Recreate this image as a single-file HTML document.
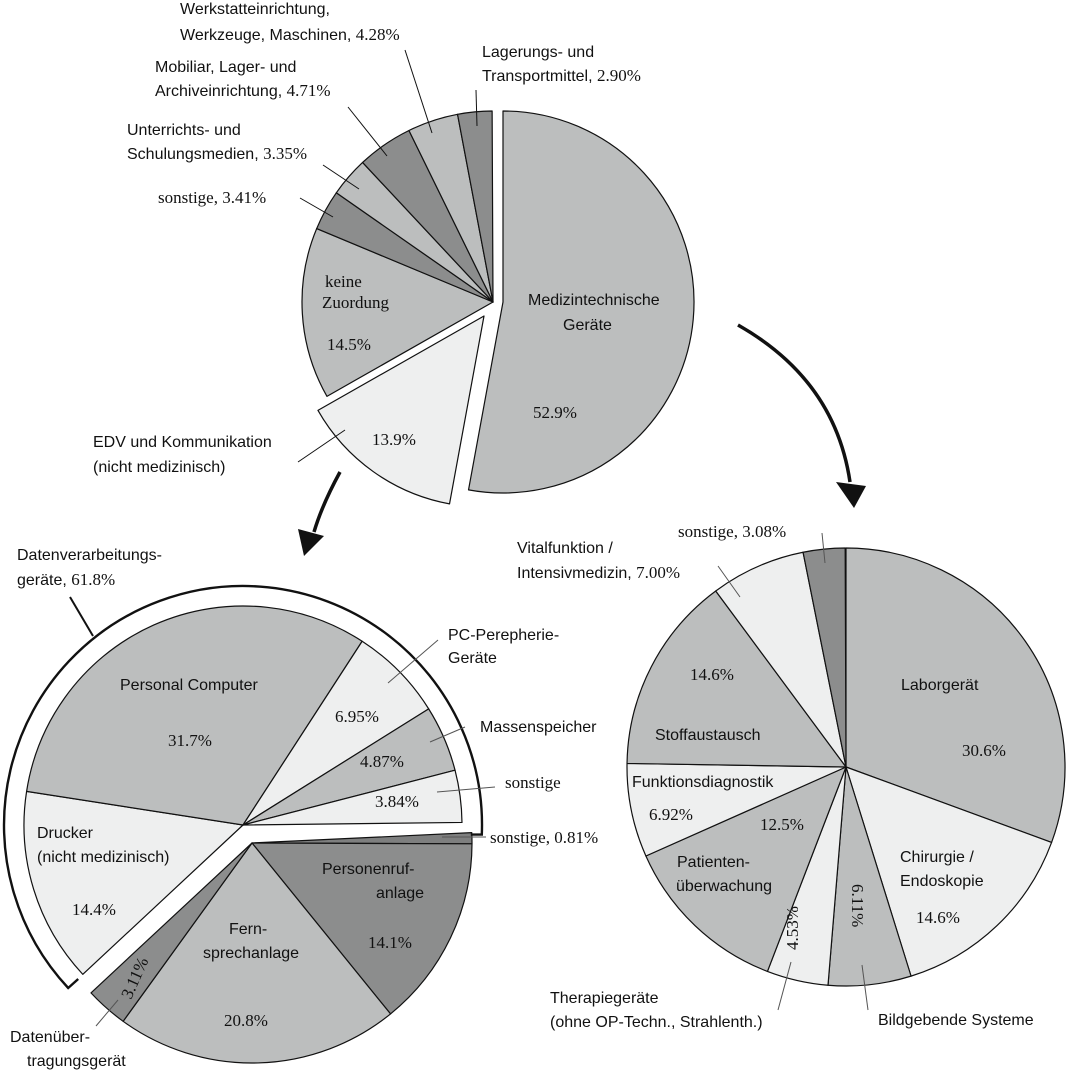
<!DOCTYPE html>
<html><head><meta charset="utf-8"><style>
html,body{margin:0;padding:0;background:#fff}
svg{display:block}
.s{font-family:"Liberation Sans",sans-serif;font-size:16px;fill:#111}
.r{font-family:"Liberation Serif",serif;font-size:17px;fill:#111}
.l{stroke:#555;stroke-width:1;fill:none}
.lk{stroke:#111;stroke-width:1;fill:none}
</style></head><body>
<svg id="sv" width="1066" height="1070" viewBox="0 0 1066 1070" xmlns="http://www.w3.org/2000/svg">
<g id="pies" stroke="#111" stroke-width="1.2" stroke-linejoin="round"></g>

<path id="band" fill="none" stroke="#111" stroke-width="2.4"></path>

<path d="M738,325 Q835,380 850,482" stroke="#111" stroke-width="3.5" fill="none"/>
<polygon points="836,482 866,486 854,508" fill="#111"/>
<path d="M340,472 Q322,505 314,532" stroke="#111" stroke-width="3.5" fill="none"/>
<polygon points="298,529 324,536 304,556" fill="#111"/>

<g class="lk">
<line x1="405" y1="50" x2="432" y2="133"/>
<line x1="476" y1="90" x2="477" y2="126"/>
<line x1="348" y1="107" x2="387" y2="156"/>
<line x1="323" y1="165" x2="359" y2="189"/>
<line x1="300" y1="198" x2="333" y2="217"/>
<line x1="298" y1="462" x2="345" y2="430"/>
<line x1="70" y1="597" x2="93" y2="636" stroke-width="2"/>
</g>
<g class="l">
<line x1="438" y1="640" x2="388" y2="683"/>
<line x1="465" y1="727" x2="430" y2="742"/>
<line x1="495" y1="787" x2="437" y2="792"/>
<line x1="442" y1="837" x2="486" y2="837"/>
<line x1="96" y1="1026" x2="118" y2="1000"/>
<line x1="822" y1="533" x2="825" y2="563"/>
<line x1="718" y1="566" x2="740" y2="597"/>
<line x1="778" y1="1010" x2="791" y2="962"/>
<line x1="868" y1="1010" x2="862" y2="965"/>
</g>

<text class="s" x="180" y="14">Werkstatteinrichtung,</text>
<text class="s" x="180" y="40">Werkzeuge, Maschinen, <tspan class="r">4.28%</tspan></text>
<text class="s" x="482" y="57">Lagerungs- und</text>
<text class="s" x="482" y="81">Transportmittel, <tspan class="r">2.90%</tspan></text>
<text class="s" x="155" y="72">Mobiliar, Lager- und</text>
<text class="s" x="155" y="96">Archiveinrichtung, <tspan class="r">4.71%</tspan></text>
<text class="s" x="127" y="135">Unterrichts- und</text>
<text class="s" x="127" y="159">Schulungsmedien, <tspan class="r">3.35%</tspan></text>
<text class="r" x="158" y="203">sonstige, 3.41%</text>
<text class="r" x="325" y="287">keine</text>
<text class="r" x="322" y="308">Zuordung</text>
<text class="r" x="327" y="350">14.5%</text>
<text class="s" x="528" y="305">Medizintechnische</text>
<text class="s" x="563" y="330">Geräte</text>
<text class="r" x="533" y="418">52.9%</text>
<text class="r" x="372" y="445">13.9%</text>
<text class="s" x="93" y="447">EDV und Kommunikation</text>
<text class="s" x="93" y="472">(nicht medizinisch)</text>

<text class="s" x="17" y="560">Datenverarbeitungs-</text>
<text class="s" x="17" y="585">geräte, <tspan class="r">61.8%</tspan></text>
<text class="s" x="120" y="690">Personal Computer</text>
<text class="r" x="168" y="746">31.7%</text>
<text class="s" x="448" y="640">PC-Perepherie-</text>
<text class="s" x="448" y="663">Geräte</text>
<text class="r" x="335" y="722">6.95%</text>
<text class="s" x="480" y="732">Massenspeicher</text>
<text class="r" x="360" y="767">4.87%</text>
<text class="r" x="505" y="788">sonstige</text>
<text class="r" x="375" y="807">3.84%</text>
<text class="r" x="490" y="843">sonstige, 0.81%</text>
<text class="s" x="37" y="838">Drucker</text>
<text class="s" x="37" y="862">(nicht medizinisch)</text>
<text class="r" x="72" y="915">14.4%</text>
<text class="s" x="322" y="874">Personenruf-</text>
<text class="s" x="376" y="898">anlage</text>
<text class="r" x="368" y="948">14.1%</text>
<text class="s" x="229" y="934">Fern-</text>
<text class="s" x="203" y="958">sprechanlage</text>
<text class="r" x="224" y="1026">20.8%</text>
<text class="r" transform="translate(131,1000) rotate(-66)" x="0" y="0">3.11%</text>
<text class="s" x="10" y="1042">Datenüber-</text>
<text class="s" x="27" y="1066">tragungsgerät</text>

<text class="r" x="678" y="537">sonstige, 3.08%</text>
<text class="s" x="517" y="553">Vitalfunktion /</text>
<text class="s" x="517" y="578">Intensivmedizin, <tspan class="r">7.00%</tspan></text>
<text class="r" x="690" y="680">14.6%</text>
<text class="s" x="655" y="740">Stoffaustausch</text>
<text class="s" x="901" y="690">Laborgerät</text>
<text class="r" x="962" y="756">30.6%</text>
<text class="s" x="632" y="787">Funktionsdiagnostik</text>
<text class="r" x="649" y="820">6.92%</text>
<text class="r" x="760" y="830">12.5%</text>
<text class="s" x="677" y="867">Patienten-</text>
<text class="s" x="676" y="891">überwachung</text>
<text class="r" transform="translate(798,950) rotate(-90)">4.53%</text>
<text class="r" transform="translate(852,884) rotate(90)">6.11%</text>
<text class="s" x="900" y="862">Chirurgie /</text>
<text class="s" x="900" y="886">Endoskopie</text>
<text class="r" x="916" y="923">14.6%</text>
<text class="s" x="550" y="1003">Therapiegeräte</text>
<text class="s" x="550" y="1027">(ohne OP-Techn., Strahlenth.)</text>
<text class="s" x="878" y="1025">Bildgebende Systeme</text>
</svg>
<script>
(function(){
var M='#bcbebe',L='#eeefef',D='#8c8d8d';
var g=document.getElementById('pies');
function pt(cx,cy,r,a){a=a*Math.PI/180;return [cx+r*Math.sin(a),cy-r*Math.cos(a)];}
function sl(cx,cy,r,a0,a1,f){
 var p0=pt(cx,cy,r,a0),p1=pt(cx,cy,r,a1),lg=(a1-a0)>180?1:0;
 var d='M'+cx+','+cy+' L'+p0[0].toFixed(2)+','+p0[1].toFixed(2)+' A'+r+','+r+' 0 '+lg+' 1 '+p1[0].toFixed(2)+','+p1[1].toFixed(2)+' Z';
 var e=document.createElementNS('http://www.w3.org/2000/svg','path');
 e.setAttribute('d',d);e.setAttribute('fill',f);g.appendChild(e);
}
function pie(cx,cy,r,start,list){var a=start;list.forEach(function(s){var b=a+s[0]*3.6;sl(cx,cy,r,a,b,s[1]);a=b;});}
sl(503,302,191,0,190.4,M);
sl(484,316,191,190.4,240.4,L);
pie(493,302,191,240.4,[[14.5,M],[3.41,D],[3.35,M],[4.71,D],[4.28,M],[2.9,D]]);
pie(252,843,220,87.3,[[0.81,'#7e7f7f'],[14.1,D],[20.8,M],[3.11,D]]);
pie(243,825,219,227,[[14.4,L],[31.7,M],[6.95,L],[4.87,M],[3.84,L]]);
pie(846,767,219,0,[[30.6,M],[14.6,L],[6.11,M],[4.53,L],[12.5,M],[6.92,L],[14.6,M],[7.0,L],[3.08,D]]);
var cx=243,cy=825,r2=239,a0=227,a1=92.3;
var q=pt(cx,cy,r2,a0),s=pt(cx,cy,r2,a1);
var p=[q[0]+10,q[1]-9], t=[s[0]-11,s[1]];
var d='M'+p+' L'+q+' A'+r2+','+r2+' 0 1 1 '+s+' L'+t;
document.getElementById('band').setAttribute('d',d);
})();
</script>
</body></html>
